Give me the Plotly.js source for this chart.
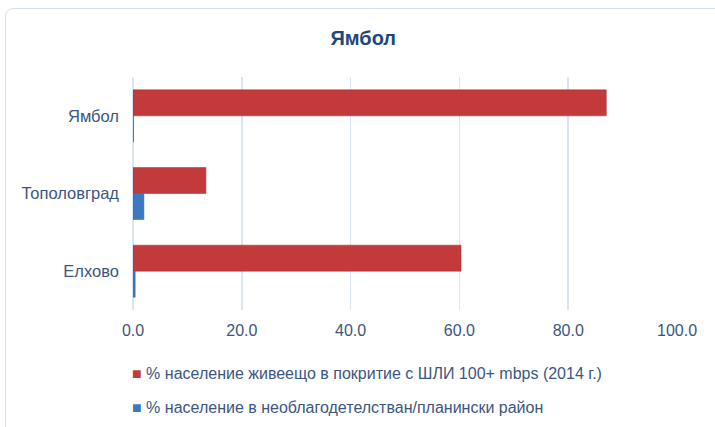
<!DOCTYPE html>
<html><head><meta charset="utf-8">
<script src="https://cdn.plot.ly/plotly-3.0.1.min.js"></script>
<style>
html,body{margin:0;padding:0;background:#fff;overflow:hidden}
#frame{position:absolute;left:5px;top:8px;width:730px;height:440px;border:1.5px solid #D5E0EE;border-radius:8px;box-sizing:border-box}
#chart{position:absolute;left:0;top:0;width:715px;height:427px}
</style></head>
<body>
<div id="frame"></div>
<div id="chart"></div>
<script>
const chartTitle = "Ямбол";
const categories = ["Ямбол", "Тополовград", "Елхово"];
const seriesNames = [
  "% население живеещо в покритие с ШЛИ 100+ mbps (2014 г.)",
  "% население в необлагодетелстван/планински район"
];
const seriesColors = ["#C33A3A", "#3D78C2"];
const coverage = [87.0, 13.4, 60.3];
const mountainous = [0.1, 2.0, 0.4];
const xTicks = [0, 20, 40, 60, 80, 100];

const fontFam = "Liberation Sans, Arial, sans-serif";
const txtColor = "#3B5680";

const traces = [
  {type:"bar", orientation:"h", name:seriesNames[0], y:categories, x:coverage,
   marker:{color:seriesColors[0], line:{color:"#A52C2C", width:0.5}}, hoverinfo:"x"},
  {type:"bar", orientation:"h", name:seriesNames[1], y:categories, x:mountainous,
   marker:{color:seriesColors[1], line:{color:"#2E62A3", width:0.5}}, hoverinfo:"x"}
];

const M = {l:133, r:38, t:77, b:117};
const plotH = 427 - M.t - M.b;
// legend drawn as real-text annotations (matches the original's compact layout)
const legendY = [373, 407];
const annotations = seriesNames.map((name, i) => ({
  xref:"paper", yref:"paper", x:-0.006, xanchor:"left",
  y:(427 - M.b - legendY[i]) / plotH, yanchor:"middle",
  showarrow:false, align:"left",
  text:'<span style="font-size:16px;color:' + seriesColors[i] + '">■</span> ' + name,
  font:{family:fontFam, size:16, color:txtColor}
}));

const layout = {
  width:715, height:427,
  margin:M,
  paper_bgcolor:"rgba(0,0,0,0)", plot_bgcolor:"rgba(0,0,0,0)",
  title:{text:"<b>"+chartTitle+"</b>", font:{family:fontFam, size:20, color:"#1F477A"},
         x:0.508, xanchor:"center", y:0.912, yanchor:"middle"},
  barmode:"group", bargap:0.33, bargroupgap:0,
  xaxis:{range:[0,100], tickvals:xTicks, ticktext:xTicks.map(v=>v.toFixed(1)),
         showgrid:true, gridcolor:"#DCE5F2", gridwidth:1.5, zeroline:true, zerolinecolor:"#DCE5F2", zerolinewidth:1.5,
         showline:false, ticks:"", ticklabelstandoff:9, tickfont:{family:fontFam, size:16, color:txtColor}, fixedrange:true},
  yaxis:{type:"category", autorange:"reversed", showgrid:false, zeroline:false, showline:false,
         ticks:"", ticklabelstandoff:13, tickfont:{family:fontFam, size:16.5, color:txtColor}, fixedrange:true},
  showlegend:false,
  annotations:annotations
};

Plotly.newPlot("chart", traces, layout, {displayModeBar:false, staticPlot:true});
</script>
</body></html>
